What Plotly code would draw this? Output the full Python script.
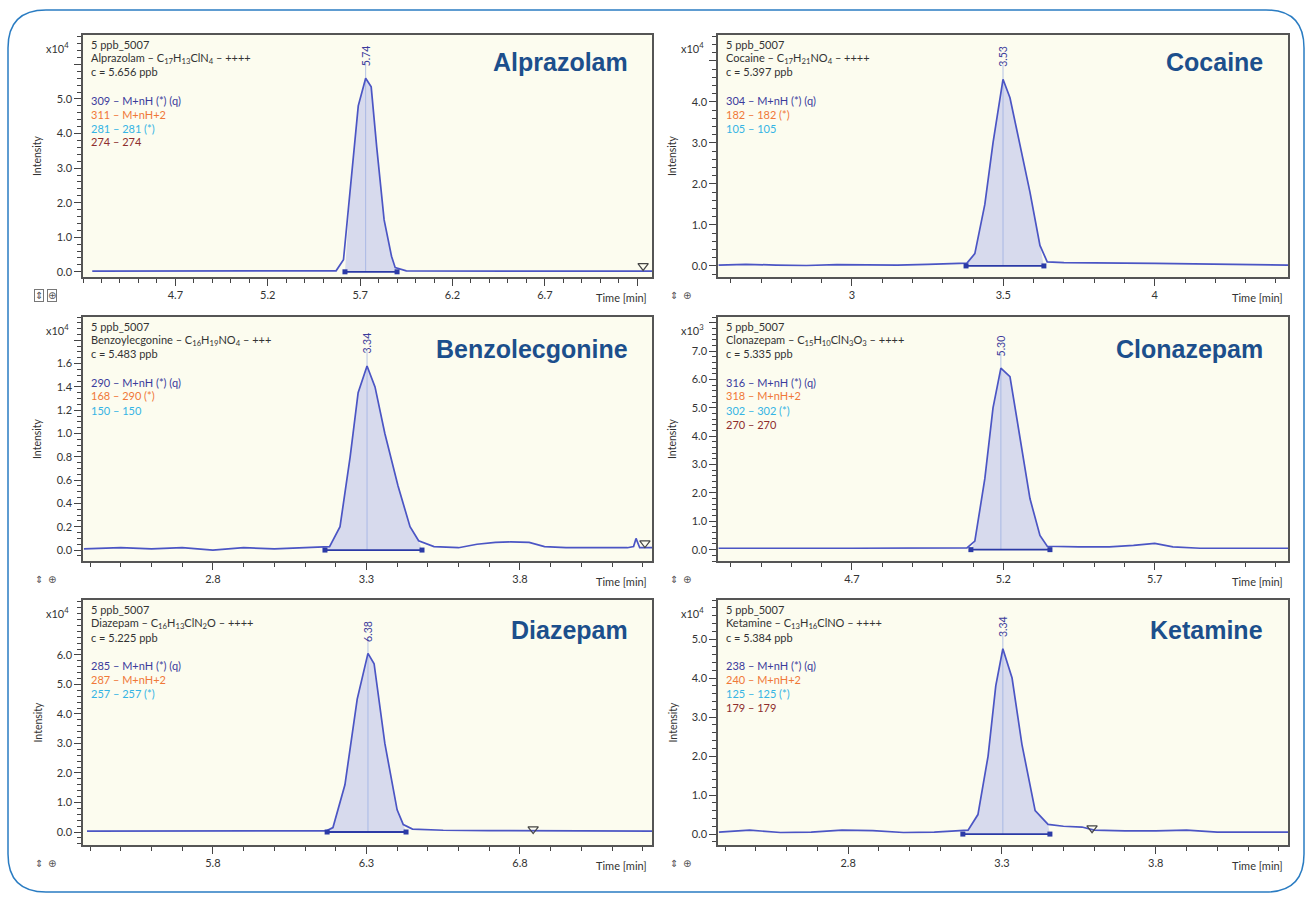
import plotly.graph_objects as go

W, H = 1309, 897

# ---------------- data ----------------
ALP_T = [4.25, 4.6, 5.0, 5.4, 5.57, 5.61, 5.65, 5.69, 5.73, 5.76, 5.79, 5.83, 5.87, 5.89, 5.95, 6.2, 6.6, 7.0, 7.28]
ALP_I = [0.02, 0.02, 0.02, 0.02, 0.03, 0.35, 2.6, 4.8, 5.6, 5.35, 3.6, 1.5, 0.45, 0.12, 0.03, 0.02, 0.02, 0.02, 0.02]

COC_T = [2.56, 2.65, 2.75, 2.85, 2.95, 3.05, 3.15, 3.25, 3.33, 3.38, 3.406, 3.439, 3.466, 3.499, 3.522,
         3.548, 3.588, 3.621, 3.645, 3.70, 3.8, 3.9, 4.0, 4.1, 4.2, 4.3, 4.44]
COC_I = [0.02, 0.04, 0.02, 0.01, 0.03, 0.03, 0.02, 0.04, 0.05, 0.07, 0.3, 1.5, 3.0, 4.55, 4.1,
         3.2, 1.8, 0.5, 0.1, 0.08, 0.08, 0.07, 0.06, 0.05, 0.04, 0.03, 0.02]

BZE_T = [2.38, 2.5, 2.6, 2.7, 2.8, 2.9, 3.0, 3.1, 3.18, 3.214, 3.247, 3.273, 3.302, 3.328, 3.36, 3.403,
         3.442, 3.47, 3.52, 3.6, 3.66, 3.72, 3.77, 3.83, 3.88, 3.95, 4.05, 4.15, 4.17, 4.178, 4.19, 4.23]
BZE_I = [0.01, 0.02, 0.01, 0.02, 0.0, 0.02, 0.01, 0.02, 0.03, 0.2, 0.8, 1.35, 1.58, 1.4, 1.0, 0.55,
         0.2, 0.08, 0.03, 0.02, 0.05, 0.065, 0.07, 0.065, 0.03, 0.02, 0.02, 0.02, 0.03, 0.1, 0.02, 0.02]

CLO_T = [4.26, 4.4, 4.55, 4.7, 4.85, 5.0, 5.08, 5.106, 5.139, 5.166, 5.192, 5.222, 5.255, 5.288, 5.321,
         5.345, 5.45, 5.55, 5.63, 5.70, 5.76, 5.85, 6.0, 6.14]
CLO_I = [0.05, 0.06, 0.05, 0.05, 0.06, 0.05, 0.06, 0.3, 2.5, 5.0, 6.4, 6.1, 4.0, 1.8, 0.5,
         0.12, 0.1, 0.1, 0.15, 0.22, 0.1, 0.05, 0.05, 0.05]

DIA_T = [5.39, 5.6, 5.8, 6.0, 6.12, 6.17, 6.191, 6.23, 6.27, 6.305, 6.325, 6.36, 6.40, 6.42, 6.45,
         6.55, 6.7, 6.9, 7.1, 7.23]
DIA_I = [0.03, 0.03, 0.02, 0.03, 0.03, 0.04, 0.15, 1.6, 4.5, 6.05, 5.7, 3.0, 0.75, 0.25, 0.1,
         0.06, 0.05, 0.04, 0.03, 0.03]

KET_T = [2.38, 2.48, 2.58, 2.68, 2.78, 2.88, 2.98, 3.08, 3.15, 3.19, 3.222, 3.255, 3.28, 3.303, 3.333,
         3.365, 3.408, 3.45, 3.5, 3.56, 3.6, 3.7, 3.8, 3.9, 4.0, 4.1, 4.23]
KET_I = [0.05, 0.1, 0.04, 0.05, 0.1, 0.09, 0.04, 0.05, 0.08, 0.1, 0.5, 2.0, 3.8, 4.75, 4.0,
         2.3, 0.6, 0.25, 0.2, 0.18, 0.1, 0.08, 0.08, 0.1, 0.05, 0.05, 0.05]

PEAK_RT = ["5.74", "3.53", "3.34", "5.30", "6.38", "3.34"]
NAMES = ["Alprazolam", "Cocaine", "Benzolecgonine", "Clonazepam", "Diazepam", "Ketamine"]
FORMULAS = [
    "Alprazolam – C<sub>17</sub>H<sub>13</sub>ClN<sub>4</sub> – ++++",
    "Cocaine – C<sub>17</sub>H<sub>21</sub>NO<sub>4</sub> – ++++",
    "Benzoylecgonine – C<sub>16</sub>H<sub>19</sub>NO<sub>4</sub> – +++",
    "Clonazepam – C<sub>15</sub>H<sub>10</sub>ClN<sub>3</sub>O<sub>3</sub> – ++++",
    "Diazepam – C<sub>16</sub>H<sub>13</sub>ClN<sub>2</sub>O – ++++",
    "Ketamine – C<sub>13</sub>H<sub>16</sub>ClNO – ++++",
]
CONC = ["c = 5.656 ppb", "c = 5.397 ppb", "c = 5.483 ppb", "c = 5.335 ppb", "c = 5.225 ppb", "c = 5.384 ppb"]
IONS = [
    ["309 – M+nH (*) (q)", "311 – M+nH+2", "281 – 281 (*)", "274 – 274"],
    ["304 – M+nH (*) (q)", "182 – 182 (*)", "105 – 105"],
    ["290 – M+nH (*) (q)", "168 – 290 (*)", "150 – 150"],
    ["316 – M+nH (*) (q)", "318 – M+nH+2", "302 – 302 (*)", "270 – 270"],
    ["285 – M+nH (*) (q)", "287 – M+nH+2", "257 – 257 (*)"],
    ["238 – M+nH (*) (q)", "240 – M+nH+2", "125 – 125 (*)", "179 – 179"],
]
EXPONENT = ["4", "4", "4", "3", "4", "4"]
BASE_START = [5.618, 3.377, 3.165, 5.093, 6.172, 3.173]
BASE_END = [5.90, 3.634, 3.481, 5.354, 6.429, 3.456]
TRI_T = [[7.232], [], [4.207], [], [6.843], [3.593]]
TRI_I = [[0.17], [], [0.06], [], [0.1], [0.15]]

X_MAJOR = [[4.7, 5.2, 5.7, 6.2, 6.7, 7.2], [3.0, 3.5, 4.0], [2.8, 3.3, 3.8],
           [4.7, 5.2, 5.7], [5.8, 6.3, 6.8], [2.8, 3.3, 3.8]]
X_LABELS = [["4.7", "5.2", "5.7", "6.2", "6.7", ""], ["3", "3.5", "4"], ["2.8", "3.3", "3.8"],
            ["4.7", "5.2", "5.7"], ["5.8", "6.3", "6.8"], ["2.8", "3.3", "3.8"]]
Y_MAJOR = [[0, 1, 2, 3, 4, 5, 6], [0, 1, 2, 3, 4, 5], [0, 0.2, 0.4, 0.6, 0.8, 1.0, 1.2, 1.4, 1.6, 1.8],
           [0, 1, 2, 3, 4, 5, 6, 7, 8], [0, 1, 2, 3, 4, 5, 6], [0, 1, 2, 3, 4, 5]]
Y_LABELS = [["0.0", "1.0", "2.0", "3.0", "4.0", "5.0", ""], ["0.0", "1.0", "2.0", "3.0", "4.0", ""],
            ["0.0", "0.2", "0.4", "0.6", "0.8", "1.0", "1.2", "1.4", "1.6", ""],
            ["0.0", "1.0", "2.0", "3.0", "4.0", "5.0", "6.0", "7.0", ""],
            ["0.0", "1.0", "2.0", "3.0", "4.0", "5.0", "6.0"], ["0.0", "1.0", "2.0", "3.0", "4.0", "5.0"]]

SERIES_T = [ALP_T, COC_T, BZE_T, CLO_T, DIA_T, KET_T]
SERIES_I = [ALP_I, COC_I, BZE_I, CLO_I, DIA_I, KET_I]

# ---------------- layout geometry (pixels) ----------------
BOX = [(83, 35, 652, 277), (718, 35, 1288, 277),
       (83, 317, 652, 561), (718, 317, 1288, 561),
       (83, 600, 652, 845), (718, 600, 1288, 845)]
XR = [(4.2, 7.28), (2.558, 4.44), (2.377, 4.23), (4.258, 6.14), (5.377, 7.23), (2.377, 4.23)]
YR = [(-0.15, 6.85), (-0.27, 5.63), (-0.094, 2.0), (-0.4, 8.2), (-0.44, 7.86), (-0.28, 6.0)]
Y_MINOR = [0.2, 0.2, 0.05, 0.2, 0.2, 0.2]
TITLE_POS = [(630, 62), (1265, 62), (630, 349), (1265, 349), (630, 630), (1265, 630)]

LINE_C = "#4b55c4"
FILL_C = "rgba(190,195,235,0.6)"
ION_COLORS = ["#3b3b9c", "#f07838", "#35b4e4", "#8e2d2d"]
TXT = "#333333"
FONT = "Lato"


def px(x):
    return x / W


def py(y):
    return 1 - y / H


fig = go.Figure()
ann = []
shapes = []
lay = {}

for k in range(6):
    n = "" if k == 0 else str(k + 1)
    xa, ya = "x" + n, "y" + n
    L, T, R, B = BOX[k]
    t, v = SERIES_T[k], SERIES_I[k]
    bs, be = BASE_START[k], BASE_END[k]
    ft = [bs] + [tt for tt in t if bs < tt < be] + [be]
    fv = [0] + [vv for tt, vv in zip(t, v) if bs < tt < be] + [0]
    fig.add_trace(go.Scatter(x=ft, y=fv, fill="toself", fillcolor=FILL_C, mode="none",
                             xaxis=xa, yaxis=ya, showlegend=False, hoverinfo="skip"))
    pk = max(v)
    pt = t[v.index(pk)]
    fig.add_trace(go.Scatter(x=[pt, pt], y=[0, pk * 1.08], mode="lines",
                             line=dict(color="rgba(150,170,225,0.7)", width=1),
                             xaxis=xa, yaxis=ya, showlegend=False, hoverinfo="skip"))
    fig.add_trace(go.Scatter(x=t, y=v, mode="lines", line=dict(color=LINE_C, width=1.7),
                             xaxis=xa, yaxis=ya, showlegend=False))
    fig.add_trace(go.Scatter(x=[bs, be], y=[0, 0], mode="lines+markers",
                             line=dict(color="#2b3aa6", width=1.8),
                             marker=dict(symbol="square", size=5, color="#2b3aa6"),
                             xaxis=xa, yaxis=ya, showlegend=False))
    if TRI_T[k]:
        fig.add_trace(go.Scatter(x=TRI_T[k], y=TRI_I[k], mode="markers",
                                 marker=dict(symbol="triangle-down-open", size=9,
                                             color="#444444", line=dict(width=1.2)),
                                 xaxis=xa, yaxis=ya, showlegend=False))

    lay["xaxis" + n] = dict(
        domain=[px(L), px(R)], anchor=ya, range=list(XR[k]),
        tickmode="array", tickvals=X_MAJOR[k], ticktext=X_LABELS[k],
        ticks="outside", ticklen=7, tickwidth=1.2, tickcolor="#444",
        minor=dict(dtick=0.1, tick0=0, ticks="outside", ticklen=4, tickcolor="#444", tickwidth=1),
        showline=True, linecolor="#555", linewidth=1.5, mirror=True,
        showgrid=False, zeroline=False,
        tickfont=dict(family=FONT, size=11, color=TXT), fixedrange=True,
    )
    lay["yaxis" + n] = dict(
        domain=[py(B), py(T)], anchor=xa, range=list(YR[k]),
        tickmode="array", tickvals=Y_MAJOR[k], ticktext=Y_LABELS[k],
        ticks="outside", ticklen=7, tickwidth=1.2, tickcolor="#444",
        minor=dict(dtick=Y_MINOR[k], tick0=0, ticks="outside", ticklen=4, tickcolor="#444", tickwidth=1),
        showline=True, linecolor="#555", linewidth=1.5, mirror=True,
        showgrid=False, zeroline=False,
        tickfont=dict(family=FONT, size=11, color=TXT), fixedrange=True,
    )
    shapes.append(dict(type="rect", xref="paper", yref="paper", x0=px(L), x1=px(R),
                       y0=py(B), y1=py(T), fillcolor="#fcfcef", line=dict(width=0), layer="below"))

    lines = ["5 ppb_5007", FORMULAS[k], CONC[k]]
    for i, s in enumerate(lines):
        ann.append(dict(text=s, x=px(L + 6), y=py(T + 9 + 14 * i), xref="paper", yref="paper",
                        xanchor="left", yanchor="middle", showarrow=False,
                        font=dict(family=FONT, size=11, color=TXT)))
    for i, s in enumerate(IONS[k]):
        ann.append(dict(text=s, x=px(L + 6), y=py(T + 65 + 14 * i), xref="paper", yref="paper",
                        xanchor="left", yanchor="middle", showarrow=False,
                        font=dict(family=FONT, size=11, color=ION_COLORS[i])))
    tx, ty = TITLE_POS[k]
    ann.append(dict(text="<b>%s</b>" % NAMES[k], x=px(tx), y=py(ty), xref="paper", yref="paper",
                    xanchor="right", yanchor="middle", showarrow=False,
                    font=dict(family="Liberation Sans", size=25, color="#1c4f8c")))
    ann.append(dict(text=PEAK_RT[k], x=pt, y=pk, xref=xa, yref=ya, textangle=-90,
                    xanchor="center", yanchor="bottom", yshift=10, showarrow=False,
                    font=dict(family=FONT, size=10.5, color="#3b3b9c")))
    ann.append(dict(text="x10<sup>%s</sup>" % EXPONENT[k], x=px(L - 12), y=py(T + 12), xref="paper",
                    yref="paper", xanchor="right", yanchor="middle", showarrow=False,
                    font=dict(family=FONT, size=11, color=TXT)))
    ann.append(dict(text="Intensity", x=px(L - 46), y=py((T + B) / 2), xref="paper", yref="paper",
                    textangle=-90, xanchor="center", yanchor="middle", showarrow=False,
                    font=dict(family=FONT, size=10.5, color=TXT)))
    ann.append(dict(text="Time [min]", x=px(R - 3), y=py(B + 20), xref="paper", yref="paper",
                    xanchor="right", yanchor="middle", showarrow=False,
                    font=dict(family=FONT, size=11, color=TXT)))
    boxed = k == 0
    for j, ic in enumerate(["⇕", "⊕"]):
        ann.append(dict(text=ic, x=px(L - 49 + 13 * j), y=py(B + 18), xref="paper", yref="paper",
                        xanchor="left", yanchor="middle", showarrow=False,
                        bordercolor="#777" if boxed else "rgba(0,0,0,0)", borderwidth=1, borderpad=0,
                        font=dict(family="DejaVu Sans", size=10, color="#555")))

# outer rounded frame
r = 38
x0, y0, x1, y1 = 8, 10, 1304, 892
path = ("M {a},{b} L {c},{b} Q {d},{b} {d},{e} L {d},{f} Q {d},{g} {c},{g} L {a},{g} "
        "Q {h},{g} {h},{f} L {h},{e} Q {h},{b} {a},{b} Z").format(
    a=px(x0 + r), b=py(y0), c=px(x1 - r), d=px(x1), e=py(y0 + r), f=py(y1 - r), g=py(y1), h=px(x0))
shapes.append(dict(type="path", xref="paper", yref="paper", path=path,
                   line=dict(color="#2a7cc2", width=1.5), layer="below"))

fig.update_layout(width=W, height=H, margin=dict(l=0, r=0, t=0, b=0),
                  paper_bgcolor="white", plot_bgcolor="rgba(0,0,0,0)",
                  annotations=ann, shapes=shapes, showlegend=False, **lay)
fig.write_html("out.html")
